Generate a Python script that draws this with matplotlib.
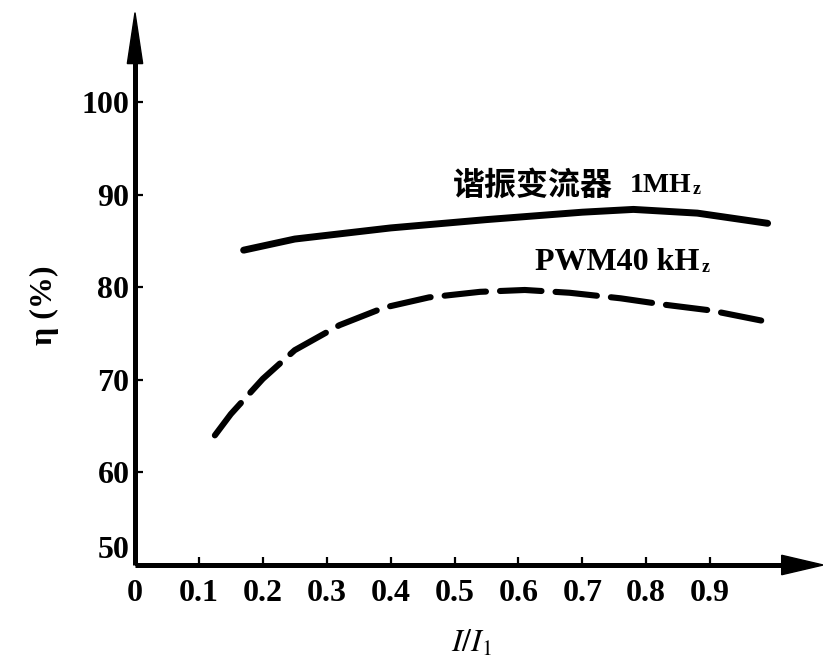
import matplotlib
matplotlib.use("Agg")
import matplotlib.pyplot as plt
from matplotlib.patches import Polygon
from matplotlib.transforms import ScaledTranslation

# Efficiency versus relative load current
load_resonant = [0.17, 0.25, 0.40, 0.55, 0.70, 0.78, 0.88, 0.99]
eta_resonant = [84.0, 85.2, 86.4, 87.3, 88.1, 88.4, 88.0, 86.9]

load_pwm = [0.125, 0.15, 0.20, 0.25, 0.32, 0.39, 0.46, 0.54, 0.61, 0.68, 0.76, 0.83, 0.90, 0.98]
eta_pwm = [64.0, 66.3, 70.1, 73.2, 75.9, 77.8, 78.9, 79.5, 79.7, 79.4, 78.8, 78.1, 77.5, 76.4]

x_ticks = [0, 0.1, 0.2, 0.3, 0.4, 0.5, 0.6, 0.7, 0.8, 0.9]
x_tick_labels = ["0", "0.1", "0.2", "0.3", "0.4", "0.5", "0.6", "0.7", "0.8", "0.9"]
y_ticks = [50, 60, 70, 80, 90, 100]
y_tick_labels = ["50", "60", "70", "80", "90", "100"]

plt.rcParams["mathtext.fontset"] = "stix"
SERIF = ["Liberation Serif", "DejaVu Serif"]
CJK = ["Noto Sans CJK SC", "DejaVu Sans"]

W, H = 823, 659
fig = plt.figure(figsize=(W / 100, H / 100), dpi=100)
ax = fig.add_axes([135 / W, (H - 565) / H, 639 / W, (565 - 102) / H])
ax.set_xlim(0, 1.0)
ax.set_ylim(50, 100)
for s in ax.spines.values():
    s.set_visible(False)

# Curves
ax.plot(load_resonant, eta_resonant, color="black", lw=5.0,
        solid_capstyle="round", solid_joinstyle="round")
ax.plot(load_pwm, eta_pwm, color="black", lw=4.4,
        linestyle=(0, (6.8, 2.3)), dash_capstyle="round")

# Axes with arrowheads
k = "black"
ax.plot([0, 0], [0, 1.10], transform=ax.transAxes, color=k, lw=3.6,
        clip_on=False, solid_capstyle="butt")
ax.plot([0, 1.02], [0, 0], transform=ax.transAxes, color=k, lw=3.6,
        clip_on=False, solid_capstyle="butt")
ax.add_patch(Polygon([[-0.012, 1.083], [0.012, 1.083], [0.0, 1.193]],
                     closed=True, transform=ax.transAxes, color=k, clip_on=False))
ax.add_patch(Polygon([[1.012, -0.021], [1.012, 0.021], [1.077, 0.0]],
                     closed=True, transform=ax.transAxes, color=k, clip_on=False))

# Ticks
ax.set_xticks(x_ticks)
ax.set_xticklabels(x_tick_labels)
ax.set_yticks(y_ticks)
ax.set_yticklabels(y_tick_labels)
ax.tick_params(axis="both", direction="in", length=6, width=1.6, color=k)
ax.tick_params(axis="x", pad=10)
ax.tick_params(axis="y", pad=4)
for lab in ax.get_xticklabels() + ax.get_yticklabels():
    lab.set_fontfamily(SERIF)
    lab.set_fontweight("bold")
    lab.set_fontsize(23)
ylab50 = ax.get_yticklabels()[0]
ylab50.set_transform(ylab50.get_transform() + ScaledTranslation(0, 13 / 72, fig.dpi_scale_trans))

# Axis titles
fig.text(44 / W, (H - 305) / H, "η (%)", rotation=90, ha="center", va="center",
         fontsize=23, fontfamily=SERIF, fontweight="bold")
fig.text(472 / W, (H - 643) / H, r"$I/I_1$", ha="center", va="center", fontsize=23)

# Curve labels
ax.text(0.498, 91.0, "谐振变流器", ha="left", va="center", fontsize=23,
        fontfamily=CJK, fontweight="bold")
ax.text(0.775, 91.0, "1MH", ha="left", va="center", fontsize=20,
        fontfamily=SERIF, fontweight="bold")
ax.text(0.873, 90.5, "z", ha="left", va="center", fontsize=13,
        fontfamily=SERIF, fontweight="bold")

ax.text(0.626, 82.7, "PWM40 kH", ha="left", va="center", fontsize=23,
        fontfamily=SERIF, fontweight="bold")
ax.text(0.886, 82.1, "z", ha="left", va="center", fontsize=13,
        fontfamily=SERIF, fontweight="bold")

fig.savefig("out.png", dpi=100)
